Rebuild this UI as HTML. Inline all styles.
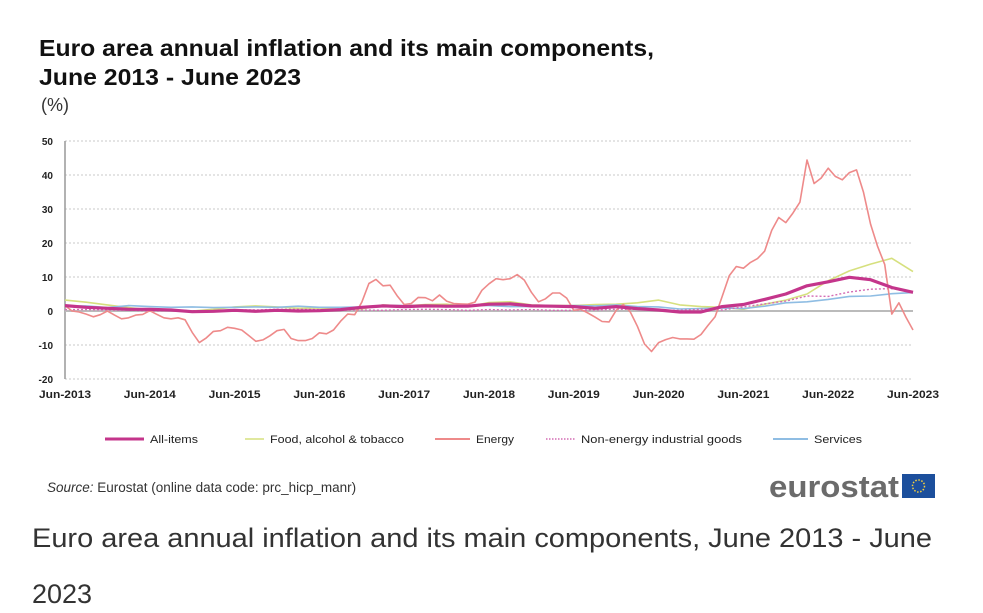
<!DOCTYPE html>
<html><head><meta charset="utf-8"><style>
body{margin:0;background:#fff;width:983px;height:613px;overflow:hidden;font-family:"Liberation Sans",sans-serif}
svg{position:absolute;left:0;top:0}
</style></head><body>
<svg id="chart" width="983" height="613">
<text x="39" y="56" font-size="23" font-weight="bold" fill="#111" textLength="615" lengthAdjust="spacingAndGlyphs">Euro area annual inflation and its main components,</text>
<text x="39" y="85" font-size="23" font-weight="bold" fill="#111" textLength="262" lengthAdjust="spacingAndGlyphs">June 2013 - June 2023</text>
<text x="41" y="111" font-size="18" fill="#333">(%)</text>
<g id="grid"></g><g id="series"></g><g id="legend"></g>
<text x="47" y="492" font-size="13.5" fill="#333"><tspan font-style="italic">Source:</tspan> Eurostat (online data code: prc_hicp_manr)</text>
<text x="769" y="497" font-size="31" font-weight="bold" fill="#6b6b6b" textLength="130" lengthAdjust="spacingAndGlyphs">eurostat</text>
<rect x="902" y="474" width="33" height="24" fill="#1c4f9c"/>
<circle cx="918.5" cy="486" r="6" fill="none" stroke="#f4d03f" stroke-width="1.5" stroke-dasharray="1.5 1.6"/>
<text x="32" y="547" font-size="27" fill="#333" textLength="900" lengthAdjust="spacingAndGlyphs">Euro area annual inflation and its main components, June 2013 - June</text>
<text x="32" y="603" font-size="27" fill="#333">2023</text>
</svg>
<script>
const yTicks=[50,40,30,20,10,0,-10,-20];
const xLabels=["Jun-2013","Jun-2014","Jun-2015","Jun-2016","Jun-2017","Jun-2018","Jun-2019","Jun-2020","Jun-2021","Jun-2022","Jun-2023"];
const energyMonthly=[1.6,0.0,-0.3,-0.9,-1.7,-1.1,0.0,
-1.2,-2.3,-2.0,-1.2,-1.0,0.1,-1.0,-2.0,-2.3,-2.0,-2.6,-6.3,
-9.3,-7.9,-6.0,-5.8,-4.8,-5.1,-5.6,-7.2,-8.9,-8.5,-7.3,-5.8,
-5.4,-8.1,-8.7,-8.7,-8.1,-6.4,-6.7,-5.6,-3.0,-0.9,-1.1,2.6,
8.1,9.3,7.4,7.6,4.5,1.9,2.2,4.0,3.9,3.0,4.7,2.9,
2.2,2.1,2.0,2.6,6.1,8.0,9.5,9.2,9.5,10.7,9.1,5.5,
2.7,3.6,5.3,5.3,3.8,0.2,0.5,-0.6,-1.8,-3.1,-3.2,0.2,
1.9,-0.3,-4.5,-9.7,-11.9,-9.3,-8.4,-7.8,-8.2,-8.2,-8.3,-6.9,
-4.2,-1.7,4.3,10.4,13.1,12.6,14.3,15.4,17.6,23.7,27.5,26.0,
28.8,32.0,44.4,37.5,39.1,42.0,39.6,38.6,40.7,41.5,34.9,25.5,
18.9,13.7,-0.9,2.4,-1.8,-5.6];
const allItemsQ=[1.6,1.1,0.8,0.5,0.5,0.3,-0.2,-0.1,0.2,-0.1,0.2,0.0,0.1,0.4,1.1,1.5,1.3,1.5,1.4,1.4,2.0,2.1,1.5,1.4,1.3,0.8,1.3,0.7,0.3,-0.3,-0.3,1.3,1.9,3.4,5.0,7.4,8.6,9.9,9.2,6.9,5.5];
const foodQ=[3.2,2.6,1.8,1.0,0.3,0.3,0.0,0.5,1.2,1.5,1.2,0.8,0.9,0.4,0.6,1.8,1.5,1.9,2.0,1.3,2.5,2.7,1.8,1.6,1.6,1.9,2.0,2.4,3.2,1.8,1.3,1.1,0.5,2.0,3.2,5.0,8.9,11.8,13.8,15.5,11.6];
const neigQ=[0.4,0.4,0.3,0.3,0.0,0.2,0.1,-0.1,0.3,0.3,0.5,0.5,0.4,0.3,0.3,0.2,0.4,0.5,0.4,0.2,0.4,0.3,0.4,0.2,0.2,0.3,0.5,0.5,0.2,0.2,0.5,0.3,1.2,2.1,2.9,4.4,4.3,5.6,6.4,6.6,5.5];
const servicesQ=[1.4,1.5,1.0,1.6,1.3,1.1,1.2,1.0,1.1,1.2,1.1,1.4,1.1,1.1,1.2,1.6,1.6,1.5,1.2,1.6,1.6,1.3,1.3,1.4,1.6,1.5,1.8,1.3,1.2,0.6,0.7,0.9,0.7,1.4,2.4,2.7,3.4,4.3,4.4,5.1,5.4];
const legendNames=["All-items","Food, alcohol & tobacco","Energy","Non-energy industrial goods","Services"];

const NS="http://www.w3.org/2000/svg";
const X0=65,X1=913,Y0=311,PPU=3.4;
const xm=m=>X0+(X1-X0)*m/120;
const ys=v=>Y0-v*PPU;
function mk(tag,attrs,parent){const e=document.createElementNS(NS,tag);for(const k in attrs)e.setAttribute(k,attrs[k]);parent.appendChild(e);return e;}
const grid=document.getElementById('grid'),ser=document.getElementById('series'),leg=document.getElementById('legend');
yTicks.forEach(t=>{
  if(t!==0){const l=mk('line',{x1:X0,x2:X1,y1:ys(t),y2:ys(t),stroke:'#c8c8c8','stroke-dasharray':'2 2'},grid);
  
  }
  const tx=mk('text',{x:53,y:ys(t)+4,'font-size':10,'text-anchor':'end',fill:'#222','font-weight':'bold'},grid);
  tx.textContent=t;
  
  
});
const ya=mk('line',{x1:X0,x2:X0,y1:ys(50),y2:ys(-20),stroke:'#999','stroke-width':1.5},grid);


const xa=mk('line',{x1:X0,x2:X1,y1:Y0,y2:Y0,stroke:'#bbb','stroke-width':2},grid);


xLabels.forEach((s,i)=>{
  const tx=mk('text',{x:xm(i*12),y:398,'font-size':11,'text-anchor':'middle',fill:'#222','font-weight':'bold',textLength:52,lengthAdjust:'spacingAndGlyphs'},grid);
  tx.textContent=s;
  
  
});
function path(vals,step){return vals.map((v,i)=>(i?'L':'M')+xm(i*step).toFixed(1)+','+ys(v).toFixed(1)).join(' ');}
const styles=[
 {vals:foodQ,step:3,stroke:'#d6e07e',w:1.6,dash:null,name:'series-food'},
 {vals:servicesQ,step:3,stroke:'#8fbde3',w:1.6,dash:null,name:'series-services'},
 {vals:neigQ,step:3,stroke:'#d46cb4',w:1.4,dash:'2 2',name:'series-non-energy-industrial-goods'},
 {vals:energyMonthly,step:1,stroke:'#ee8a8a',w:1.6,dash:null,name:'series-energy'},
 {vals:allItemsQ,step:3,stroke:'#c4358b',w:3.2,dash:null,name:'series-all-items'}];
styles.forEach(s=>{
  const a={d:path(s.vals,s.step),fill:'none',stroke:s.stroke,'stroke-width':s.w,'stroke-linejoin':'round'};
  if(s.dash)a['stroke-dasharray']=s.dash;
  const p=mk('path',a,ser);
  
  
});
const legCfg=[[105,150,'#c4358b',3,null,48],[245,270,'#d6e07e',1.6,null,134],[435,476,'#ee8a8a',2,null,38],[546,581,'#d46cb4',1.4,'1.5 1.5',161],[773,814,'#8fbde3',2,null,48]];
legCfg.forEach((c,i)=>{
  const g=mk('g',{},leg);
  
  
  const a={x1:c[0],x2:c[1]-6,y1:439,y2:439,stroke:c[2],'stroke-width':c[3]};
  if(c[4])a['stroke-dasharray']=c[4];
  mk('line',a,g);
  const t=mk('text',{x:c[1],y:443,'font-size':11,fill:'#222',textLength:c[5],lengthAdjust:'spacingAndGlyphs'},g);
  t.textContent=legendNames[i];
});
</script>
</body></html>
